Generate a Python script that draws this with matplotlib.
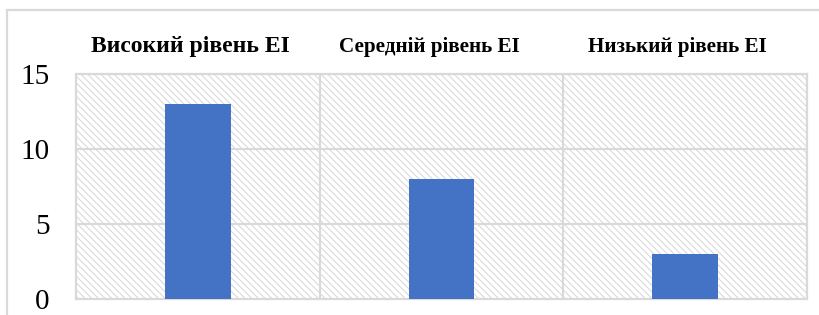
import matplotlib.pyplot as plt
from matplotlib.patches import Rectangle
from matplotlib.transforms import blended_transform_factory

# рівні емоційного інтелекту та кількість осіб
categories = ["Високий рівень ЕІ", "Середній рівень ЕІ", "Низький рівень ЕІ"]
values = [13, 8, 3]
label_sizes = [17, 15.2, 15.2]
label_shift = [-0.03, -0.05, -0.03]
yticks = [0, 5, 10, 15]

plt.rcParams["font.family"] = ["Liberation Serif", "DejaVu Serif"]
plt.rcParams["hatch.color"] = "#dadada"
plt.rcParams["hatch.linewidth"] = 0.8

grid_col = "#d9d9d9"
fig = plt.figure(figsize=(8.19, 3.15), dpi=100)

# рамка області діаграми
fig.patches.append(Rectangle((7 / 819, -0.1), 1.0, (315 - 10) / 315 + 0.1,
                             transform=fig.transFigure, fill=False,
                             edgecolor=grid_col, linewidth=1.6))

ax = fig.add_axes([76 / 819, 16 / 315, (807 - 76) / 819, (299 - 74) / 315])
x = list(range(len(categories)))
ax.set_xlim(-0.5, len(categories) - 0.5)
ax.set_ylim(0, 15)

# заштрихований фон
ax.add_patch(Rectangle((0, 0), 1, 1, transform=ax.transAxes, facecolor="white",
                       edgecolor="#dadada", hatch="\\\\\\\\\\", linewidth=0, zorder=0))

ax.bar(x, values, width=0.27, color="#4472C4", zorder=3)

for yv in yticks[1:]:
    ax.axhline(yv, color=grid_col, linewidth=1.5, zorder=2)
for xv in [0.5, 1.5]:
    ax.axvline(xv, color=grid_col, linewidth=1.5, zorder=2)

for s in ax.spines.values():
    s.set_color(grid_col)
    s.set_linewidth(1.6)

ax.set_yticks(yticks)
ax.tick_params(axis="y", length=0, pad=19, labelsize=21)

ax.set_xticks([])
tr = blended_transform_factory(ax.transData, ax.transAxes)
for xi, lab, fs, dx in zip(x, categories, label_sizes, label_shift):
    ax.text(xi + dx, 1.12, lab, transform=tr, ha="center", va="center",
            fontsize=fs, fontweight="bold")

fig.savefig("out.png", dpi=100)
